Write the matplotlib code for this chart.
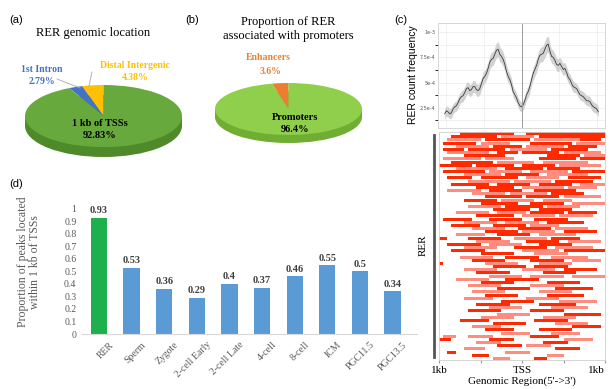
import numpy as np
import matplotlib
matplotlib.use("Agg")
import matplotlib.pyplot as plt
from matplotlib.lines import Line2D
from matplotlib.patches import Rectangle, Ellipse

# ---- data ----
pie_a_labels = ["Distal Intergenic", "1st Intron", "1 kb of TSSs"]
pie_a_values = [4.38, 2.79, 92.83]
pie_b_labels = ["Enhancers", "Promoters"]
pie_b_values = [3.6, 96.4]

bar_labels = ["RER", "Sperm", "Zygote", "2-cell Early", "2-cell Late",
              "4-cell", "8-cell", "ICM", "PGC11.5", "PGC13.5"]
bar_values = [0.93, 0.53, 0.36, 0.29, 0.40, 0.37, 0.46, 0.55, 0.50, 0.34]

# profile around TSS (bp, RER count frequency in 1e-4)
prof_x = [-920, -900, -880, -860, -840, -820, -800, -780, -760, -740,
          -720, -700, -680, -660, -640, -620, -600, -580, -560, -540,
          -520, -500, -480, -460, -440, -420, -400, -380, -360, -340,
          -320, -300, -280, -260, -240, -220, -200, -180, -160, -140,
          -120, -100, -80, -60, -40, -20, 0, 20, 40, 60,
          80, 100, 120, 140, 160, 180, 200, 220, 240, 260,
          280, 300, 320, 340, 360, 380, 400, 420, 440, 460,
          480, 500, 520, 540, 560, 580, 600, 620, 640, 660,
          680, 700, 720, 740, 760, 780, 800, 820, 840, 860,
          880, 900, 920]
prof_y = [1.9, 2.2, 2.1, 1.9, 2.0, 2.4, 2.6, 2.7, 3.0, 3.4,
          3.6, 3.7, 4.0, 4.4, 4.5, 4.2, 4.3, 4.6, 4.6, 4.3,
          4.2, 4.4, 4.9, 5.4, 5.6, 5.9, 6.4, 7.0, 7.3, 7.4,
          7.8, 8.2, 8.3, 7.8, 7.6, 7.3, 6.8, 6.1, 5.6, 5.3,
          4.8, 4.1, 3.8, 3.5, 3.0, 2.7, 2.6, 2.8, 3.2, 3.8,
          4.1, 4.6, 5.3, 5.9, 6.3, 6.7, 7.3, 7.7, 7.8, 7.9,
          8.3, 8.7, 8.8, 8.1, 7.6, 7.5, 7.2, 6.8, 6.7, 6.9,
          6.6, 6.3, 6.4, 6.0, 5.5, 5.3, 4.9, 4.6, 4.5, 4.4,
          4.1, 3.8, 3.7, 3.6, 3.4, 3.2, 3.2, 3.1, 2.8, 2.6,
          2.5, 2.4, 2.1]
prof_err = [0.5, 0.5, 0.5, 0.5, 0.5, 0.5, 0.5, 0.5, 0.55, 0.55,
            0.55, 0.6, 0.6, 0.6, 0.6, 0.6, 0.6, 0.6, 0.6, 0.6,
            0.6, 0.6, 0.6, 0.65, 0.65, 0.65, 0.65, 0.7, 0.7, 0.7,
            0.7, 0.75, 0.75, 0.75, 0.7, 0.7, 0.65, 0.65, 0.6, 0.6,
            0.6, 0.55, 0.55, 0.5, 0.5, 0.5, 0.5, 0.5, 0.5, 0.55,
            0.55, 0.6, 0.6, 0.65, 0.65, 0.7, 0.7, 0.7, 0.75, 0.75,
            0.8, 0.8, 0.8, 0.75, 0.7, 0.7, 0.65, 0.65, 0.65, 0.6,
            0.6, 0.6, 0.6, 0.6, 0.55, 0.55, 0.55, 0.55, 0.5, 0.5,
            0.5, 0.5, 0.5, 0.5, 0.5, 0.5, 0.5, 0.5, 0.5, 0.5,
            0.5, 0.5, 0.5]

# heatmap rows: (start, end, shade)  d = dark red, l = light red
heat_rows = [
    [(-750, -100, "d"), (50, 1000, "d")],
    [(-850, -300, "d"), (-250, 150, "l"), (200, 1000, "d")],
    [(-900, -500, "l"), (-450, 100, "d"), (150, 700, "l"), (700, 950, "d")],
    [(-950, -550, "d"), (-500, -150, "l"), (100, 600, "d"), (650, 1000, "l")],
    [(-800, -400, "l"), (-350, 0, "d"), (50, 500, "l"), (550, 900, "d")],
    [(-950, -700, "d"), (-650, -200, "d"), (-150, 300, "l"), (350, 800, "d")],
    [(-900, -400, "l"), (-300, -50, "d"), (0, 450, "d"), (500, 950, "l")],
    [(-700, -200, "d"), (300, 700, "d"), (750, 1000, "l")],
    [(-950, -500, "l"), (-450, -100, "l"), (200, 650, "d"), (700, 1000, "d")],
    [(-850, -350, "d"), (-300, 150, "l"), (250, 800, "l")],
    [(-1000, -600, "d"), (-550, -100, "d"), (0, 400, "d"), (450, 950, "l")],
    [(-800, -300, "l"), (-200, 250, "d"), (300, 700, "d")],
    [(-950, -450, "d"), (-400, 0, "l"), (100, 550, "l"), (600, 1000, "d")],
    [(-700, -250, "l"), (-200, 200, "d"), (300, 800, "l")],
    [(-900, -600, "d"), (-500, -50, "d"), (50, 450, "l"), (550, 950, "d")],
    [(-650, -150, "l"), (-100, 350, "l"), (400, 850, "d")],
    [(-850, -400, "d"), (-300, 100, "d"), (200, 600, "d"), (700, 1000, "l")],
    [(-550, -100, "d"), (0, 500, "l"), (550, 900, "l")],
    [(-900, -500, "l"), (-400, 0, "d"), (150, 650, "d")],
    [(-600, -200, "l"), (-150, 300, "l"), (350, 750, "d")],
    [(-450, 0, "d"), (50, 450, "d"), (500, 950, "l")],
    [(-700, -300, "d"), (-250, 150, "l"), (250, 600, "l")],
    [(-500, -50, "d"), (100, 500, "d"), (600, 1000, "l")],
    [(-650, -250, "l"), (-200, 250, "d"), (300, 700, "l")],
    [(-350, 100, "d"), (200, 600, "d")],
    [(-800, -400, "l"), (-300, 50, "l"), (100, 500, "d"), (550, 900, "d")],
    [(-550, -100, "d"), (0, 400, "l"), (450, 850, "l")],
    [(-950, -600, "d"), (-400, 0, "d"), (150, 550, "d")],
    [(-700, -300, "l"), (-200, 200, "l"), (300, 750, "d")],
    [(-850, -500, "d"), (-350, 50, "d"), (100, 450, "l")],
    [(-600, -200, "l"), (-50, 350, "d"), (400, 800, "l")],
    [(-450, -50, "d"), (0, 400, "l"), (500, 900, "d")],
    [(-800, -450, "l"), (-300, 100, "d"), (200, 650, "l")],
    [(-1000, -900, "d"), (-650, -250, "d"), (-100, 300, "l"), (350, 700, "d")],
    [(-550, -150, "l"), (50, 450, "d"), (550, 950, "l")],
    [(-900, -500, "d"), (-400, 0, "l"), (200, 600, "d")],
    [(-700, -300, "l"), (-100, 300, "d"), (400, 850, "l")],
    [(-850, -450, "d"), (0, 450, "l"), (500, 1000, "d")],
    [(-500, -100, "d"), (150, 550, "l")],
    [(-750, -350, "l"), (-200, 200, "d"), (350, 800, "l")],
    [(-600, -200, "d"), (100, 500, "d"), (600, 950, "l")],
    [(-1000, -950, "d"), (-450, -50, "l"), (200, 600, "l")],
    [(-350, 50, "d"), (150, 550, "d")],
    [(-700, -300, "l"), (0, 400, "l"), (500, 900, "d")],
    [(-550, -150, "d"), (250, 650, "d")],
    [(-400, 0, "l"), (100, 500, "l"), (600, 1000, "l")],
    [(-800, -400, "l"), (-200, 200, "d")],
    [(-500, -100, "d"), (300, 700, "d")],
    [(-650, -250, "l"), (100, 500, "l")],
    [(-300, 100, "d"), (400, 850, "d")],
    [(-600, -200, "l"), (200, 600, "l")],
    [(-450, -50, "d"), (300, 750, "d")],
    [(-700, -350, "l"), (50, 450, "l")],
    [(-250, 150, "d"), (450, 900, "l")],
    [(-550, -150, "d"), (200, 650, "d")],
    [(-400, 0, "l"), (350, 800, "l")],
    [(-650, -250, "d"), (100, 500, "d")],
    [(-300, 100, "l"), (500, 950, "d")],
    [(-500, -100, "l"), (250, 650, "l")],
    [(-750, -400, "d"), (150, 550, "d")],
    [(-350, 50, "d"), (400, 800, "l")],
    [(-600, -250, "l"), (600, 950, "d")],
    [(-450, -100, "d"), (200, 600, "d")],
    [(-250, 100, "l"), (350, 700, "l")],
    [(-950, -800, "l"), (-650, -350, "l"), (100, 450, "d")],
    [(-1000, -850, "d"), (-400, -100, "d"), (500, 850, "l")],
    [(-550, -250, "l"), (250, 550, "d")],
    [(-300, 0, "d"), (50, 350, "l")],
    [(-700, -450, "l"), (400, 700, "d")],
    [(-900, -800, "d"), (-200, 100, "l")],
    [(-600, -400, "d"), (300, 500, "l")],
    [(-350, -150, "l"), (150, 300, "d")],
]

SERIF = "Liberation Serif"
SANS = "Liberation Sans"
W, H = 610, 389


def rect(x0, y0, x1, y1):
    """ Pikseliai -> figuros koordinates. """
    return [x0 / W, 1 - y1 / H, (x1 - x0) / W, (y1 - y0) / H]


def ftext(x, y, s, **kw):
    fig.text(x / W, 1 - y / H, s, **kw)


def fline(xs, ys, **kw):
    fig.add_artist(Line2D([x / W for x in xs], [1 - y / H for y in ys], **kw))


def pie_3d(ax, values, colors, side, depth):
    ax.add_patch(Rectangle((-1, -depth), 2, depth, color=side, zorder=0, lw=0))
    ax.add_patch(Ellipse((0, -depth), 2, 2, color=side, zorder=0, lw=0))
    ax.pie(values, colors=colors, startangle=90, counterclock=True,
           wedgeprops=dict(linewidth=0))
    ax.set_aspect("auto")
    ax.set_xlim(-1, 1)
    ax.set_ylim(-1 - depth, 1)
    ax.axis("off")


fig = plt.figure(figsize=(6.1, 3.89), dpi=100)

# ---- (a) ----
ftext(16, 20, "(a)", family=SANS, fontsize=8, ha="center", va="center")
ftext(93, 33, "RER genomic location", family=SERIF, fontsize=9,
      ha="center", va="center")
ax_a = fig.add_axes(rect(25, 85, 182, 157))
pie_3d(ax_a, pie_a_values, ["#ffc000", "#4472c4", "#68a93e"], "#4e8a2a", 0.32)
ftext(42, 70, "1st Intron", family=SERIF, fontsize=7, color="#4472c4",
      ha="center", va="center", fontweight="bold")
ftext(42, 81, "2.79%", family=SERIF, fontsize=7, color="#4472c4",
      ha="center", va="center", fontweight="bold")
ftext(135, 65, "Distal Intergenic", family=SERIF, fontsize=7, color="#ffc000",
      ha="center", va="center", fontweight="bold")
ftext(135, 77, "4.38%", family=SERIF, fontsize=7, color="#ffc000",
      ha="center", va="center", fontweight="bold")
fline([57, 80], [79, 88], color="#a6a6a6", lw=0.6)
fline([92, 89], [72, 86], color="#a6a6a6", lw=0.6)
ftext(100, 123, "1 kb of TSSs", family=SERIF, fontsize=7.5, color="black",
      ha="center", va="center", fontweight="bold")
ftext(100, 136, "92.83%", family=SERIF, fontsize=7.5, color="black",
      ha="center", va="center", fontweight="bold")

# ---- (b) ----
ftext(192, 20, "(b)", family=SANS, fontsize=8, ha="center", va="center")
ftext(288, 22, "Proportion of RER", family=SERIF, fontsize=9,
      ha="center", va="center")
ftext(288, 36, "associated with promoters", family=SERIF, fontsize=9,
      ha="center", va="center")
ax_b = fig.add_axes(rect(215, 83, 362, 143))
pie_3d(ax_b, pie_b_values, ["#ed7d31", "#8fcf4c"], "#6fae33", 0.31)
ftext(268, 57, "Enhancers", family=SERIF, fontsize=7, color="#ed7d31",
      ha="center", va="center", fontweight="bold")
ftext(270, 71, "3.6%", family=SERIF, fontsize=7, color="#ed7d31",
      ha="center", va="center", fontweight="bold")
ftext(295, 117, "Promoters", family=SERIF, fontsize=7.5, color="black",
      ha="center", va="center", fontweight="bold")
ftext(295, 130, "96.4%", family=SERIF, fontsize=7.5, color="black",
      ha="center", va="center", fontweight="bold")

# ---- (c) profile ----
ftext(401, 20, "(c)", family=SANS, fontsize=8, ha="center", va="center")
ax_p = fig.add_axes(rect(438, 23, 605, 128))
px_ = np.array(prof_x)
py_ = np.array(prof_y) * 1e-4
pe_ = np.array(prof_err) * 1e-4
ax_p.fill_between(px_, py_ - pe_, py_ + pe_, color="#d2d2d2", lw=0)
ax_p.plot(px_, py_, color="#3a3a3a", lw=0.6)
ax_p.axvline(0, color="#9a9a9a", lw=0.7)
ax_p.set_xlim(-1000, 1000)
ax_p.set_ylim(0.5e-4, 1.09e-3)
ax_p.set_xticks([-900, -450, 450, 900])
ax_p.set_xticklabels([])
ax_p.set_yticks([2.5e-4, 5e-4, 7.5e-4, 1e-3])
ax_p.set_yticklabels(["2.5e-4", "5e-4", "7.5e-4", "1e-3"], fontsize=3.5,
                     color="#555555")
ax_p.set_yticks([1.25e-4, 3.75e-4, 6.25e-4, 8.75e-4], minor=True)
ax_p.grid(True, which="both", color="#ececec", lw=0.5)
ax_p.set_axisbelow(True)
ax_p.tick_params(length=0, pad=2)
for s in ax_p.spines.values():
    s.set_color("#d0d0d0")
    s.set_linewidth(0.6)
ftext(413, 75, "RER count frequency", family=SANS, fontsize=7.5,
      rotation=90, ha="center", va="center")

# ---- (c) heatmap ----
ax_h = fig.add_axes(rect(439, 132, 605, 360))
spalvos = {"d": "#ff2a00", "l": "#ff8c7e"}
for i, eil in enumerate(heat_rows):
    for (pr, pb, sh) in eil:
        ax_h.barh(i + 0.5, pb - pr, left=pr, height=0.95,
                  color=spalvos[sh], lw=0)
ax_h.set_xlim(-1000, 1000)
ax_h.set_ylim(len(heat_rows), 0)
ax_h.set_yticks([])
ax_h.set_xticks([-1000, -500, 0, 500, 1000])
ax_h.set_xticklabels(["1kb", "", "TSS", "", "1kb"], family=SERIF, fontsize=8)
ax_h.get_xticklabels()[-1].set_ha("right")
ax_h.tick_params(axis="x", length=2, color="#999999", pad=2)
for s in ax_h.spines.values():
    s.set_color("#cfcfcf")
    s.set_linewidth(0.6)
ax_h.set_xlabel("Genomic Region(5'->3')", family=SERIF, fontsize=8,
                labelpad=1)
fline([434, 434], [135, 357], color="#555555", lw=2)
ftext(423, 245, "RER", family=SERIF, fontsize=8, rotation=90,
      ha="center", va="center")

# ---- (d) bars ----
ftext(16, 184, "(d)", family=SANS, fontsize=8, ha="center", va="center")
ax_d = fig.add_axes(rect(82, 205, 417, 334))
x = np.arange(len(bar_labels))
bar_colors = ["#1fb04e"] + ["#5b9bd5"] * (len(bar_labels) - 1)
ax_d.bar(x, bar_values, width=0.5, color=bar_colors)
for xi, v in zip(x, bar_values):
    ax_d.text(xi, v + 0.02, f"{v:g}", family=SERIF, fontsize=7.5,
              fontweight="bold", color="#404040", ha="center", va="bottom")
ax_d.set_xlim(-0.52, 9.75)
ax_d.set_ylim(0, 1.03)
ax_d.set_yticks(np.arange(0, 1.01, 0.1))
ax_d.set_yticklabels(["0"] + [f"{t:.1f}" for t in np.arange(0.1, 0.95, 0.1)] + ["1"],
                     family=SERIF, fontsize=7, color="#595959")
ax_d.tick_params(axis="y", length=0, pad=4)
ax_d.set_xticks([])
for xi, lab in zip(x, bar_labels):
    ax_d.text(xi + 0.3, -0.05, lab, family=SERIF, fontsize=7, color="#595959",
              rotation=45, ha="right", va="top", rotation_mode="anchor")
for s in ["top", "right", "left"]:
    ax_d.spines[s].set_visible(False)
ax_d.spines["bottom"].set_color("#d9d9d9")
ftext(23, 262, "Proportion of peaks located", family=SERIF, fontsize=8.5,
      color="#595959", rotation=90, ha="center", va="center")
ftext(35, 262, "within 1 kb of TSSs", family=SERIF, fontsize=8.5,
      color="#595959", rotation=90, ha="center", va="center")

fig.savefig("out.png", dpi=100)
